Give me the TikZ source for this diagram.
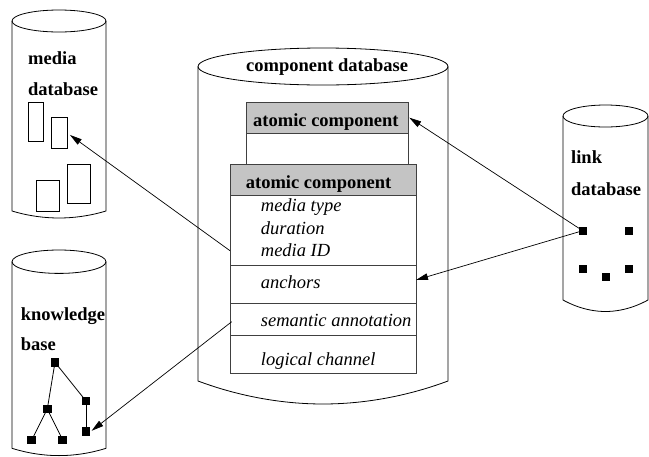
\documentclass[tikz,border=0pt]{standalone}
\usepackage{fontspec}
\setmainfont{Liberation Serif}
\usetikzlibrary{arrows.meta}
\begin{document}
\begin{tikzpicture}[x=1pt,y=-1pt,
  cyl/.style={draw=black,line width=0.8pt},
  box/.style={draw=black!75,line width=1pt,rectangle,inner sep=0pt,anchor=north west},
  hdr/.style={box,fill=black!23},
  lbl/.style={font=\fontsize{18.5}{22}\selectfont\bfseries,anchor=base west,inner sep=0pt},
  itl/.style={font=\fontsize{18.5}{22}\selectfont\itshape,anchor=base west,inner sep=0pt},
  sq/.style={fill=black,draw=none,minimum size=8pt,inner sep=0pt},
  tsq/.style={fill=black,draw=none,minimum size=8.5pt,inner sep=0pt},
  rct/.style={draw=black,line width=0.8pt,rectangle,inner sep=0pt,anchor=north west},
  arr/.style={draw=black,line width=0.7pt,-{Triangle[length=12pt,width=6.5pt]}},
  tl/.style={draw=black,line width=0.8pt}]
\useasboundingbox (0,0) rectangle (649,456);

% media database cylinder
\draw[cyl] (59,21) ellipse [x radius=47,y radius=11];
\draw[cyl] (12,21) -- (12,211) parabola bend (59,218) (106,211) -- (106,21);
\node[lbl] (mtxt1) at (28,64) {media};
\node[lbl] (mtxt2) at (28,95) {database};
\node[rct,minimum width=15.6pt,minimum height=38.7pt] (mr1) at (27.7,102) {};
\node[rct,minimum width=15.7pt,minimum height=31pt] (mr2) at (51,117.3) {};
\node[rct,minimum width=23.6pt,minimum height=30.7pt] (mr3) at (35.7,180) {};
\node[rct,minimum width=23.3pt,minimum height=38.4pt] (mr4) at (66.7,164.3) {};

% knowledge base cylinder
\draw[cyl] (59,261.7) ellipse [x radius=47,y radius=11.7];
\draw[cyl] (12,261.7) -- (12,448.3) parabola bend (59,455.6) (106,448.3) -- (106,261.7);
\node[lbl] (ktxt1) at (20.7,320) {knowledge};
\node[lbl] (ktxt2) at (20.7,350) {base};
\node[tsq] (kroot) at (55,362.3) {};
\node[tsq] (kright) at (86,401) {};
\node[tsq] (kleaf) at (86,431.7) {};
\node[tsq] (kleft) at (47.3,409) {};
\node[tsq] (kll) at (31.7,440) {};
\node[tsq] (klr) at (62.7,440) {};
\draw[tl] (kroot.center) -- (kleft.center);
\draw[tl] (kroot.center) -- (kright.center);
\draw[tl] (kright.center) -- (kleaf.center);
\draw[tl] (kleft.center) -- (kll.center);
\draw[tl] (kleft.center) -- (klr.center);

% component database cylinder
\draw[cyl] (323,66.5) ellipse [x radius=125,y radius=18.5];
\draw[cyl] (198,66.5) -- (198,381) parabola bend (323,404) (448,381) -- (448,66.5);
\node[lbl] (ctxt) at (246,71.7) {component database};

% upper atomic component
\node[box,minimum width=162.6pt,minimum height=31.3pt] (body1) at (245.7,132.7) {};
\node[hdr,minimum width=162.6pt,minimum height=31pt] (hdr1) at (245.7,101.7) {};
\node[lbl] (h1txt) at (253,126.7) {atomic component};

% lower atomic component
\node[box,fill=white,minimum width=186.3pt,minimum height=70pt] (sec1) at (229.7,195) {};
\node[hdr,minimum width=186.3pt,minimum height=31pt] (hdr2) at (229.7,164) {};
\node[box,minimum width=186.3pt,minimum height=38.3pt] (sec2) at (229.7,265) {};
\node[box,minimum width=186.3pt,minimum height=31.7pt] (sec3) at (229.7,303.3) {};
\node[box,minimum width=186.3pt,minimum height=38.3pt] (sec4) at (229.7,335) {};
\node[lbl] (h2txt) at (245.7,188.3) {atomic component};
\node[itl] (t1) at (260.7,211.7) {media type};
\node[itl] (t2) at (260.7,234) {duration};
\node[itl] (t3) at (260.7,256) {media ID};
\node[itl] (t4) at (260.7,288) {anchors};
\node[itl] (t5) at (260.7,326.7) {semantic annotation};
\node[itl] (t6) at (260.7,365.7) {logical channel};

% link database cylinder
\draw[cyl] (605.5,116) ellipse [x radius=42.5,y radius=11];
\draw[cyl] (563,116) -- (563,300) parabola bend (605.5,311.5) (648,300) -- (648,116);
\node[lbl] (ltxt1) at (571,163.3) {link};
\node[lbl] (ltxt2) at (571,195) {database};
\node[sq] (ls1) at (582.7,230.7) {};
\node[sq] (ls2) at (629.3,230.7) {};
\node[sq] (ls3) at (582.7,269) {};
\node[sq] (ls4) at (606,276.7) {};
\node[sq] (ls5) at (629.3,269) {};

% connectors
\coordinate (m1) at (230,250.7);
\coordinate (a1) at (416,280);
\coordinate (s1) at (231.7,321.7);
\draw[arr,shorten >=3pt] (m1) -- (mr2.east);
\draw[arr] (ls1.center) -- (hdr1.east);
\draw[arr] (ls1.center) -- (a1);
\draw[arr,shorten >=1.5pt] (s1) -- (kleaf.east);
\end{tikzpicture}
\end{document}
